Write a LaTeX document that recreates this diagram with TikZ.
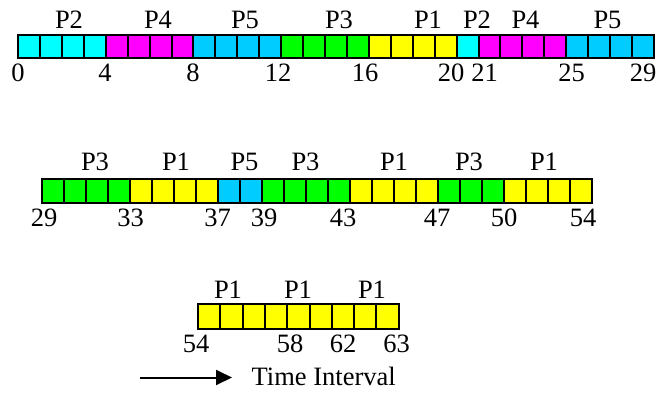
\documentclass[tikz,border=0pt]{standalone}
\usepackage{fontspec}
\setmainfont{Liberation Serif}
\newfontfamily\tnr{Liberation Serif}
\usetikzlibrary{arrows.meta}
\definecolor{cPa}{HTML}{FFFF00}
\definecolor{cPb}{HTML}{00FFFF}
\definecolor{cPc}{HTML}{00FF00}
\definecolor{cPd}{HTML}{FF00FF}
\definecolor{cPe}{HTML}{00CCFF}
\begin{document}
\begin{tikzpicture}[x=1pt,y=-1pt,
  cell/.style={draw=black, line width=2pt, inner sep=0pt, anchor=north west},
  lbl/.style={anchor=base, inner sep=0pt, font=\tnr\fontsize{26.5}{30}\selectfont},
  arrowline/.style={line width=2pt, -{Triangle[length=16pt,width=15pt]}}]
\useasboundingbox (0,0) rectangle (670,392);
% row 1
\foreach \a/\b/\c in {0/4/cPb,4/8/cPd,8/12/cPe,12/16/cPc,16/20/cPa,20/21/cPb,21/25/cPd,25/29/cPe}{
  \pgfmathtruncatemacro\e{\b-1}
  \foreach \k in {\a,...,\e}{
    \node[cell, fill=\c, minimum width=21.93pt, minimum height=23.5pt] (ra\k) at ({17+\k*21.93},33.5) {};
  }
}
% row 2
\foreach \a/\b/\c in {0/4/cPc,4/8/cPa,8/10/cPe,10/14/cPc,14/18/cPa,18/21/cPc,21/25/cPa}{
  \pgfmathtruncatemacro\e{\b-1}
  \foreach \k in {\a,...,\e}{
    \node[cell, fill=\c, minimum width=22pt, minimum height=24pt] (rb\k) at ({41+\k*22},178) {};
  }
}
% row 3
\foreach \k in {0,...,8}{
  \node[cell, fill=cPa, minimum width=22.3pt, minimum height=24.5pt] (rc\k) at ({197+\k*22.3},303) {};
}
% row 1 labels
\node[lbl] (pa1) at (69,28.3) {P2};
\node[lbl] (pa2) at (158,28.3) {P4};
\node[lbl] (pa3) at (245,28.3) {P5};
\node[lbl] (pa4) at (339,28.3) {P3};
\node[lbl] (pa5) at (428,28.3) {P1};
\node[lbl] (pa6) at (477,28.3) {P2};
\node[lbl] (pa7) at (525.5,28.3) {P4};
\node[lbl] (pa8) at (607.5,28.3) {P5};
\node[lbl] (na1) at (18,81) {0};
\node[lbl] (na2) at (105,81) {4};
\node[lbl] (na3) at (193,81) {8};
\node[lbl] (na4) at (278,81) {12};
\node[lbl] (na5) at (365,81) {16};
\node[lbl] (na6) at (451,81) {20};
\node[lbl] (na7) at (484.5,81) {21};
\node[lbl] (na8) at (571.5,81) {25};
\node[lbl] (na9) at (643,81) {29};
% row 2 labels
\node[lbl] (pb1) at (95,170) {P3};
\node[lbl] (pb2) at (176,170) {P1};
\node[lbl] (pb3) at (244.5,170) {P5};
\node[lbl] (pb4) at (305.5,170) {P3};
\node[lbl] (pb5) at (394,170) {P1};
\node[lbl] (pb6) at (469,170) {P3};
\node[lbl] (pb7) at (544,170) {P1};
\node[lbl] (nb1) at (44,226) {29};
\node[lbl] (nb2) at (130.5,226) {33};
\node[lbl] (nb3) at (217.5,226) {37};
\node[lbl] (nb4) at (264,226) {39};
\node[lbl] (nb5) at (343,226) {43};
\node[lbl] (nb6) at (437,226) {47};
\node[lbl] (nb7) at (504,226) {50};
\node[lbl] (nb8) at (583,226) {54};
% row 3 labels
\node[lbl] (pc1) at (228,298.3) {P1};
\node[lbl] (pc2) at (298,298.3) {P1};
\node[lbl] (pc3) at (372,298.3) {P1};
\node[lbl] (nc1) at (196,352) {54};
\node[lbl] (nc2) at (290,352) {58};
\node[lbl] (nc3) at (343,352) {62};
\node[lbl] (nc4) at (396.5,352) {63};
% arrow
\coordinate (as) at (140,377.5);
\coordinate (ae) at (232,377.5);
\draw[arrowline] (as) -- (ae);
\node[lbl, anchor=base west] (ti) at (251.5,385) {Time Interval};
\end{tikzpicture}
\end{document}
